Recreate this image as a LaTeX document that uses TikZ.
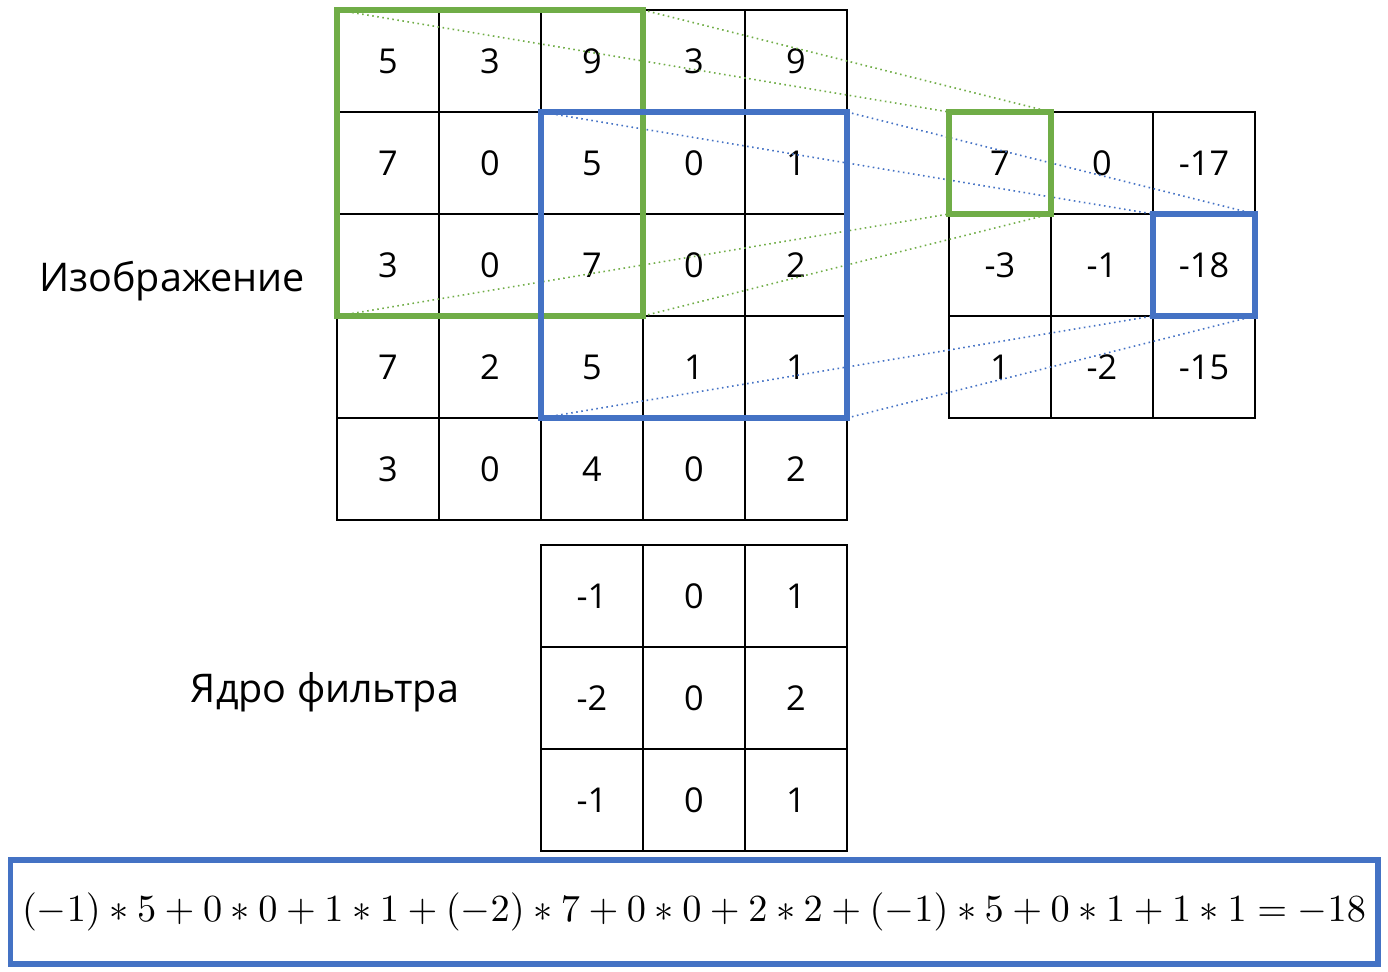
\documentclass[tikz,border=0pt]{standalone}
\usepackage{fontspec}
\setmainfont{Open Sans}
\usepackage{graphicx}
\definecolor{kgreen}{HTML}{70AD47}
\definecolor{kblue}{HTML}{4472C4}
\tikzset{
  cell/.style={draw=black, line width=1.4pt, minimum size=2.04cm, inner sep=0pt, outer sep=0pt, font=\fontsize{19.5}{22}\selectfont},
  greenbox/.style={draw=kgreen, line width=3pt},
  bluebox/.style={draw=kblue, line width=3pt},
  greenlink/.style={draw=kgreen, line width=0.9pt, dotted},
  bluelink/.style={draw=kblue, line width=0.9pt, dotted},
  label/.style={font=\fontsize{22.5}{26}\selectfont, inner sep=0pt},
}
\begin{document}
\begin{tikzpicture}[x=0.02cm, y=-0.02cm]
\path[use as bounding box] (0,0) rectangle (1388,972);
% image 5x5
\foreach \r/\row in {0/{5,3,9,3,9},1/{7,0,5,0,1},2/{3,0,7,0,2},3/{7,2,5,1,1},4/{3,0,4,0,2}}{
  \foreach \v [count=\c from 0] in \row {
    \node[cell] (im-\r-\c) at ({388+102*\c},{61+102*\r}) {\v};
  }
}
% output 3x3
\foreach \r/\row in {0/{7,0,-17},1/{-3,-1,-18},2/{1,-2,-15}}{
  \foreach \v [count=\c from 0] in \row {
    \node[cell] (out-\r-\c) at ({1000+102*\c},{163+102*\r}) {\v};
  }
}
% kernel 3x3
\foreach \r/\row in {0/{-1,0,1},1/{-2,0,2},2/{-1,0,1}}{
  \foreach \v [count=\c from 0] in \row {
    \node[cell] (k-\r-\c) at ({592+102*\c},{596+102*\r}) {\v};
  }
}
% labels
\node[label] (lbl-img) at (172,281) {Изображение};
\node[label] (lbl-ker) at (325,692) {Ядро фильтра};
% dotted links
\draw[greenlink] (im-0-0.north west) -- (out-0-0.north west);
\draw[greenlink] (im-0-2.north east) -- (out-0-0.north east);
\draw[greenlink] (im-2-0.south west) -- (out-0-0.south west);
\draw[greenlink] (im-2-2.south east) -- (out-0-0.south east);
\draw[bluelink] (im-1-2.north west) -- (out-1-2.north west);
\draw[bluelink] (im-1-4.north east) -- (out-1-2.north east);
\draw[bluelink] (im-3-2.south west) -- (out-1-2.south west);
\draw[bluelink] (im-3-4.south east) -- (out-1-2.south east);
% highlight boxes
\draw[greenbox] (im-0-0.north west) rectangle (im-2-2.south east);
\draw[greenbox] (out-0-0.north west) rectangle (out-0-0.south east);
\draw[bluebox] (im-1-2.north west) rectangle (im-3-4.south east);
\draw[bluebox] (out-1-2.north west) rectangle (out-1-2.south east);
% formula
\node[draw=kblue, line width=3pt, minimum width=27.36cm, minimum height=2.08cm, inner sep=0pt] (formula) at (694,912)
  {\resizebox{26.88cm}{!}{$(-1)*5+0*0+1*1+(-2)*7+0*0+2*2+(-1)*5+0*1+1*1=-18$}};
\end{tikzpicture}
\end{document}
